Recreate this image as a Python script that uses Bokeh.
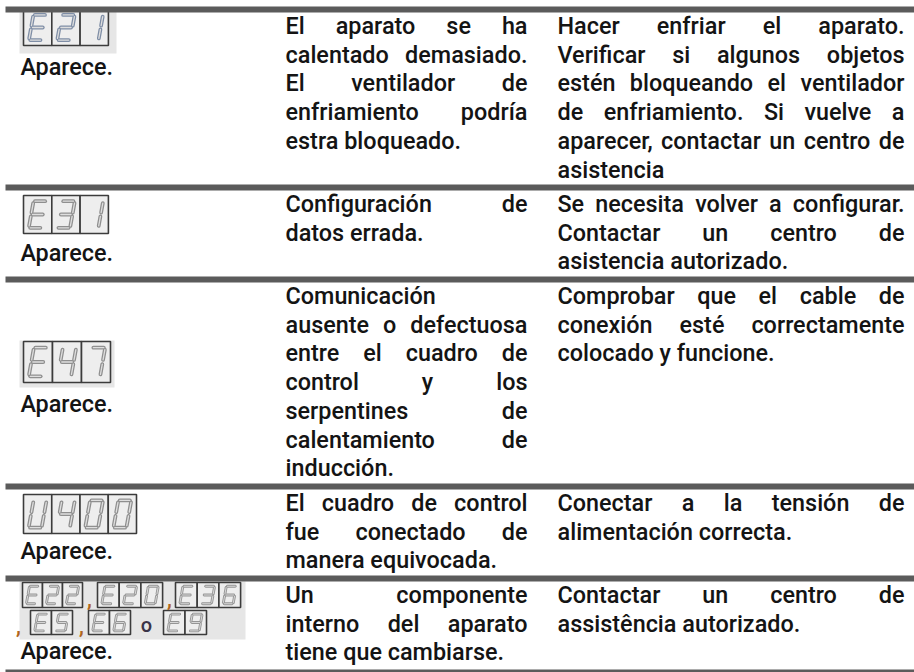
import os
import glob
import subprocess

from bokeh.plotting import figure
from bokeh.models import Range1d
from bokeh.core.properties import value
from bokeh.embed import file_html
from bokeh.resources import INLINE

# ------------------------------------------------------------------ data
codes = [["E21"], ["E31"], ["E47"], ["U400"], ["E22", "E20", "E36", "E5", "E6", "E9"]]
status_label = "Aparece."
code_commas = [",", ",", ",", ","]
code_or = "o"

causes = [
    ["El aparato se ha", "calentado demasiado.", "El ventilador de",
     "enfriamiento podría", "estra bloqueado."],
    ["Configuración de", "datos errada."],
    ["Comunicación", "ausente o defectuosa", "entre el cuadro de",
     "control y los", "serpentines de", "calentamiento de", "inducción."],
    ["El cuadro de control", "fue conectado de", "manera equivocada."],
    ["Un componente", "interno del aparato", "tiene que cambiarse."],
]

solutions = [
    ["Hacer enfriar el aparato.", "Verificar si algunos objetos",
     "estén bloqueando el ventilador", "de enfriamiento. Si vuelve a",
     "aparecer, contactar un centro de", "asistencia"],
    ["Se necesita volver a configurar.", "Contactar un centro de",
     "asistencia autorizado."],
    ["Comprobar que el cable de", "conexión esté correctamente",
     "colocado y funcione."],
    ["Conectar a la tensión de", "alimentación correcta."],
    ["Contactar un centro de", "assistência autorizado."],
]

# ------------------------------------------------------------------ layout
W, H = 914, 672
TEXT_COLOR = "#141414"
RULE_COLOR = "#5b5b5b"
RULES = [(6, 12), (184, 190), (276, 282), (483, 489), (575, 581), (669, 672)]
ROW_TOPS = [r[1] for r in RULES[:-1]]
COL2 = (285, 527)
COL3 = (557, 904)
TEXT_DY = -8          # correction for where the renderer puts the baseline
FIRST_BASELINE = 21.5
LINE_PITCH = 28.7
LABEL_X = 20
LABEL_BASELINES = [74, 260, 411, 558, 658]

# per row: optional grey plate, then one group per code (x, top, cell w, cell h)
DISPLAYS = [
    dict(plate=(19, 116, 9, 53), groups=[(23, 9, 28.3, 36)], seg="#7f8ea6"),
    dict(plate=None, groups=[(23, 195, 28.3, 38)], seg="#8f8f8f"),
    dict(plate=(19, 114, 340, 387), groups=[(23, 341, 29, 41)], seg="#8f8f8f"),
    dict(plate=None, groups=[(23, 494, 28.25, 39)], seg="#8f8f8f"),
    dict(plate=(19, 245, 581, 639),
         groups=[(22, 582, 20, 25), (97, 582, 21.7, 25), (175, 582, 21.7, 25),
                 (30, 610, 21, 24), (88, 610, 21, 24), (163, 610, 21.5, 24)],
         seg="#959595"),
]
COMMA_POS = [(89, 606), (169, 606), (18, 633), (81, 633)]
OR_POS = (146, 632)

SEGMENTS = {
    "0": "abcdef", "1": "bc", "2": "abged", "3": "abgcd", "4": "fgbc",
    "5": "afgcd", "6": "afgedc", "7": "abc", "9": "abcdfg",
    "E": "afged", "U": "bcdef",
}


# ------------------------------------------------------------------ font metrics
def all_font_files():
    hits = []
    for base in ["/usr/share/fonts", "/usr/local/share/fonts",
                 os.path.expanduser("~/.fonts"), os.path.expanduser("~/.local/share/fonts")]:
        hits += glob.glob(os.path.join(base, "**", "*.[ot]tf"), recursive=True)
    return hits


def fc_file(name):
    try:
        out = subprocess.run(["fc-match", "-f", "%{file}", name],
                             capture_output=True, text=True, timeout=5).stdout.strip()
        return out if out and os.path.exists(out) else None
    except Exception:
        return None


FILES = all_font_files()
medium = [f for f in FILES if os.path.basename(f).lower() == "roboto-medium.ttf"]
if medium:
    FONT = "Roboto Medium, Roboto"
    _path = medium[0]
else:
    FONT = "Roboto"
    _path = fc_file("Roboto")
    if not _path or "roboto" not in _path.lower():
        cands = [f for f in FILES if os.path.basename(f).lower().startswith("roboto")
                 and "italic" not in f.lower() and "condensed" not in f.lower()
                 and "mono" not in f.lower() and "slab" not in f.lower()]
        reg = [f for f in cands if "regular" in f.lower() or "[" in f]
        _path = (reg or cands or [None])[0]

_font = None
try:
    from PIL import ImageFont
    if _path:
        _font = ImageFont.truetype(_path, 100)
except Exception:
    _font = None


def text_width(s, size):
    if _font is not None:
        return _font.getlength(s) * size / 100.0
    return len(s) * 0.5 * size


CALIB = [("asistencia autorizado.", 233), ("estra bloqueado.", 172),
         ("colocado y funcione.", 220), ("inducción.", 108), ("Aparece.", 93)]
ratios = [t / text_width(s, 20.0) for s, t in CALIB]
FONT_SIZE = round(20.0 * sum(ratios) / len(ratios), 2)

# ------------------------------------------------------------------ figure
p = figure(width=W, height=H, x_range=Range1d(0, W), y_range=Range1d(H, 0),
           output_backend="svg", toolbar_location=None, min_border=0,
           x_axis_location=None, y_axis_location=None)
p.grid.visible = False
p.outline_line_color = None
p.background_fill_color = "white"
p.border_fill_color = "white"

# displays
plates = dict(left=[], right=[], top=[], bottom=[])
cells = dict(left=[], right=[], top=[], bottom=[])
seg_runs = []
for row_codes, disp in zip(codes, DISPLAYS):
    if disp["plate"]:
        l, r, t, b = disp["plate"]
        plates["left"].append(l); plates["right"].append(r)
        plates["top"].append(t); plates["bottom"].append(b)
    xs, ys = [], []
    for code, (gx, gy, cw, ch) in zip(row_codes, disp["groups"]):
        for k, char in enumerate(code):
            cx = gx + k * cw
            cells["left"].append(cx); cells["right"].append(cx + cw)
            cells["top"].append(gy); cells["bottom"].append(gy + ch)
            L, R, T, M, B, g = 0.27, 0.73, 0.15, 0.5, 0.85, 0.05

            def pt(u, v, cx=cx, gy=gy, cw=cw, ch=ch):
                return cx + u * cw + 0.18 * (M - v) * ch, gy + v * ch

            segdef = {
                "a": ((L + g, T), (R - g, T)), "b": ((R, T + g), (R, M - g)),
                "c": ((R, M + g), (R, B - g)), "d": ((L + g, B), (R - g, B)),
                "e": ((L, M + g), (L, B - g)), "f": ((L, T + g), (L, M - g)),
                "g": ((L + g, M), (R - g, M)),
            }
            for s in SEGMENTS[char]:
                (u0, v0), (u1, v1) = segdef[s]
                x0, y0 = pt(u0, v0)
                x1, y1 = pt(u1, v1)
                xs.append([x0, x1]); ys.append([y0, y1])
    small = disp["groups"][0][2] < 25
    seg_runs.append((xs, ys, disp["seg"], 2.8 if small else 3.8, 0.9 if small else 1.3))

p.quad(**plates, fill_color="#e6e6e6", line_color=None)
p.quad(**cells, fill_color="#eeeeee", line_color="#3c3c3c", line_width=1.6)
for xs, ys, col, w_out, w_in in seg_runs:
    p.multi_line(xs=xs, ys=ys, line_color=col, line_width=w_out, line_cap="round")
    p.multi_line(xs=xs, ys=ys, line_color="#dedede", line_width=w_in, line_cap="round")

# joiners between small codes
p.text(x=[q[0] for q in COMMA_POS], y=[q[1] + TEXT_DY for q in COMMA_POS],
       text=code_commas, text_font=value(FONT), text_font_size=value("22px"),
       text_font_style="bold", text_color="#b0661e",
       text_align="center", text_baseline="alphabetic")
p.text(x=[OR_POS[0]], y=[OR_POS[1] + TEXT_DY], text=[code_or],
       text_font=value(FONT), text_font_size=value("20px"), text_color="#3a3448",
       text_align="center", text_baseline="alphabetic")

# table rules
p.quad(left=5, right=W, top=[r[0] for r in RULES], bottom=[r[1] for r in RULES],
       fill_color=RULE_COLOR, line_color=None)

# texts
tx, ty, tt, ta = [], [], [], []


def add(x, y, s, align):
    tx.append(x); ty.append(y + TEXT_DY); tt.append(s); ta.append(align)


def place(lines, left, right, top):
    for i, line in enumerate(lines):
        y = top + FIRST_BASELINE + i * LINE_PITCH
        words = line.split(" ")
        if i == len(lines) - 1 or len(words) == 1:
            add(left, y, line, "left")
            continue
        widths = [text_width(w, FONT_SIZE) for w in words]
        gap = (right - left - sum(widths)) / (len(words) - 1)
        x = left
        for j, (w, wd) in enumerate(zip(words, widths)):
            if j == len(words) - 1:
                add(right, y, w, "right")
            else:
                add(x, y, w, "left")
            x += wd + gap


for top, cause, sol, lb in zip(ROW_TOPS, causes, solutions, LABEL_BASELINES):
    add(LABEL_X, lb, status_label, "left")
    place(cause, COL2[0], COL2[1], top)
    place(sol, COL3[0], COL3[1], top)

p.text(x=tx, y=ty, text=tt, text_align=ta, text_baseline="alphabetic",
       text_font=value(FONT), text_font_size=value(f"{FONT_SIZE}px"),
       text_color=TEXT_COLOR)

open("out.html", "w").write(file_html(p, INLINE))
